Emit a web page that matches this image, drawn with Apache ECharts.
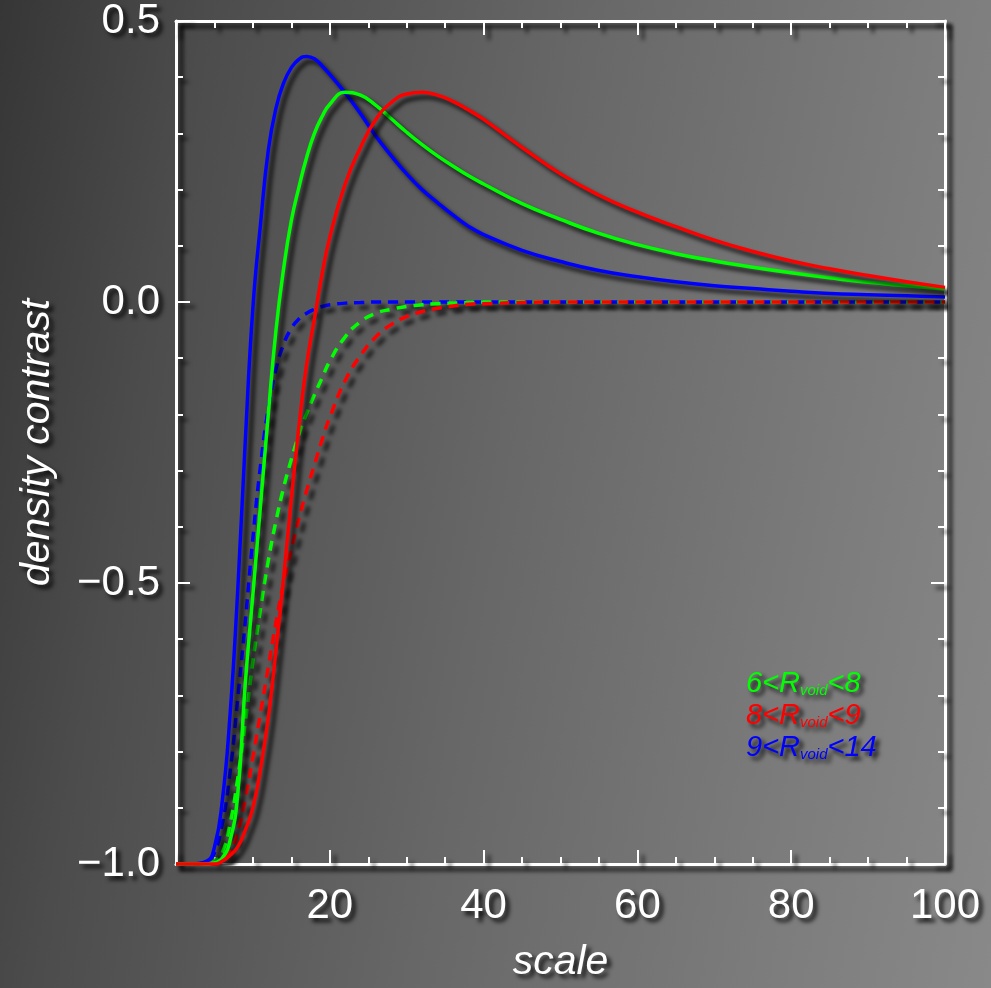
<!DOCTYPE html>
<html>
<head>
<meta charset="utf-8">
<script src="https://cdn.jsdelivr.net/npm/echarts@6/dist/echarts.min.js"></script>
<style>
  html, body {
    margin: 0;
    padding: 0;
  }
  body {
    width: 991px;
    height: 988px;
    background: linear-gradient(100deg, #363636 0%, #4c4c4c 18%, #676767 50%, #7c7c7c 80%, #898989 100%);
  }
  #main {
    width: 991px;
    height: 988px;
  }
</style>
</head>
<body>
<div id="main"></div>
<script>
// scale values (x) shared by all curves
var scale = [0, 2, 4, 5, 6, 7, 8, 9, 10, 11, 12, 13, 14, 15, 16, 17, 18, 19, 20,
  22, 24, 26, 28, 30, 32, 34, 36, 38, 40, 45, 50, 55, 60, 65, 70, 75, 80, 85, 90, 95, 100];

// solid curves
var blueSolid = [-1, -1, -0.995, -0.97, -0.89, -0.74, -0.52, -0.25, -0.01, 0.14, 0.27, 0.345, 0.39, 0.417, 0.432, 0.437, 0.433, 0.42, 0.405,
  0.372, 0.335, 0.295, 0.26, 0.228, 0.2, 0.177, 0.155, 0.135, 0.12, 0.092, 0.072, 0.056, 0.045, 0.036, 0.029, 0.024, 0.019, 0.015, 0.013, 0.011, 0.009];
var greenSolid = [-1, -1, -1, -0.998, -0.99, -0.96, -0.88, -0.68, -0.52, -0.36, -0.2, -0.05, 0.06, 0.145, 0.205, 0.258, 0.3, 0.33, 0.352,
  0.373, 0.368, 0.35, 0.326, 0.302, 0.28, 0.26, 0.242, 0.225, 0.21, 0.175, 0.147, 0.122, 0.102, 0.086, 0.073, 0.062, 0.052, 0.043, 0.035, 0.029, 0.023];
var redSolid = [-1, -1, -1, -1, -0.995, -0.985, -0.97, -0.94, -0.9, -0.83, -0.74, -0.62, -0.49, -0.35, -0.22, -0.11, -0.03, 0.05, 0.115,
  0.21, 0.275, 0.325, 0.355, 0.37, 0.373, 0.368, 0.357, 0.342, 0.325, 0.275, 0.228, 0.19, 0.16, 0.134, 0.11, 0.09, 0.073, 0.059, 0.047, 0.036, 0.026];

// dashed curves
var blueDash = [-1, -1, -0.995, -0.98, -0.93, -0.84, -0.71, -0.57, -0.42, -0.29, -0.19, -0.12, -0.075, -0.047, -0.03, -0.02, -0.013, -0.008, -0.005,
  -0.002, -0.001, 0, 0, 0, 0, 0, 0, 0, 0, 0, 0, 0, 0, 0, 0, 0, 0, 0, 0, 0, 0];
var greenDash = [-1, -1, -1, -0.995, -0.98, -0.93, -0.85, -0.75, -0.64, -0.545, -0.46, -0.39, -0.33, -0.28, -0.235, -0.198, -0.165, -0.135, -0.105,
  -0.062, -0.035, -0.02, -0.013, -0.008, -0.005, -0.003, -0.002, -0.001, 0, 0, 0, 0, 0, 0, 0, 0, 0, 0, 0, 0, 0];
var redDash = [-1, -1, -1, -1, -0.995, -0.98, -0.945, -0.885, -0.81, -0.73, -0.65, -0.57, -0.5, -0.44, -0.385, -0.335, -0.29, -0.245, -0.205,
  -0.14, -0.095, -0.062, -0.04, -0.026, -0.017, -0.011, -0.007, -0.004, -0.003, -0.001, 0, 0, 0, 0, 0, 0, 0, 0, 0, 0, 0];

var legendNames = ['6<R_void<8', '8<R_void<9', '9<R_void<14'];
var legendLabels = {
  '6<R_void<8': ['6<R', '<8'],
  '8<R_void<9': ['8<R', '<9'],
  '9<R_void<14': ['9<R', '<14']
};

function pairs(ys) {
  return scale.map(function (x, i) { return [x, ys[i]]; });
}

var shadow = {
  shadowColor: 'rgba(0,0,0,0.85)',
  shadowBlur: 4,
  shadowOffsetX: 5,
  shadowOffsetY: 5
};
var textShadow = {
  textShadowColor: 'rgba(0,0,0,0.85)',
  textShadowBlur: 4,
  textShadowOffsetX: 4,
  textShadowOffsetY: 4
};
var font = '"Liberation Sans", Arial, sans-serif';

function lineSeries(name, ys, color, dashed) {
  return {
    name: name,
    type: 'line',
    data: pairs(ys),
    showSymbol: false,
    smooth: 0.5,
    lineStyle: Object.assign({
      color: color,
      width: 3.5,
      type: dashed ? [10, 7] : 'solid'
    }, shadow),
    itemStyle: { color: color },
    z: 3
  };
}

// frame axes (white, ticks inside, shadowed)
function axisCommon() {
  return {
    axisLine: { show: true, onZero: false, lineStyle: Object.assign({ color: '#fff', width: 3 }, shadow) },
    axisTick: { show: true, inside: true, length: 14, lineStyle: Object.assign({ color: '#fff', width: 2 }, shadow) },
    minorTick: { show: true, length: 7, lineStyle: Object.assign({ color: '#fff', width: 2 }, shadow) },
    splitLine: { show: false },
    minorSplitLine: { show: false }
  };
}

var xBottom = Object.assign(axisCommon(), {
  type: 'value', min: 0, max: 100, interval: 20, position: 'bottom',
  name: 'scale', nameLocation: 'middle', nameGap: 78,
  nameTextStyle: Object.assign({ color: '#fff', fontSize: 41, fontStyle: 'italic', fontFamily: font }, textShadow),
  axisLabel: Object.assign({
    color: '#fff', fontSize: 42, fontFamily: font, margin: 21,
    formatter: function (v) { return v === 0 ? '' : String(v); }
  }, textShadow)
});
xBottom.minorTick.splitNumber = 4;

var xTop = Object.assign(axisCommon(), {
  type: 'value', min: 0, max: 100, interval: 20, position: 'top',
  axisLabel: { show: false }
});
xTop.minorTick.splitNumber = 4;

var yLeft = Object.assign(axisCommon(), {
  type: 'value', min: -1, max: 0.5, interval: 0.5, position: 'left',
  name: 'density contrast', nameLocation: 'middle', nameGap: 118, nameRotate: 90,
  nameTextStyle: Object.assign({ color: '#fff', fontSize: 41, fontStyle: 'italic', fontFamily: font }, textShadow),
  axisLabel: Object.assign({
    color: '#fff', fontSize: 42, fontFamily: font, margin: 16,
    formatter: function (v) { return v.toFixed(1).replace('-', '\u2212'); }
  }, textShadow)
});
yLeft.minorTick.splitNumber = 5;

var yRight = Object.assign(axisCommon(), {
  type: 'value', min: -1, max: 0.5, interval: 0.5, position: 'right',
  axisLabel: { show: false }
});
yRight.minorTick.splitNumber = 5;

var option = {
  backgroundColor: 'transparent',
  animation: false,
  grid: { left: 176, right: 46, top: 17, bottom: 116 },
  xAxis: [xBottom, xTop],
  yAxis: [yLeft, yRight],
  legend: {
    data: [
      { name: legendNames[0], textStyle: { color: '#00ff00' } },
      { name: legendNames[1], textStyle: { color: '#ff0000' } },
      { name: legendNames[2], textStyle: { color: '#0000ff' } }
    ],
    orient: 'vertical',
    left: 736,
    top: 664,
    icon: 'none',
    itemWidth: 0,
    itemGap: 3,
    selectedMode: false,
    formatter: function (name) {
      var p = legendLabels[name];
      return '{a|' + p[0] + '}{s|void}{a|' + p[1] + '}';
    },
    textStyle: Object.assign({
      fontFamily: font,
      rich: {
        a: Object.assign({ fontSize: 29, fontStyle: 'italic', fontFamily: font, verticalAlign: 'bottom', lineHeight: 30 }, textShadow),
        s: Object.assign({ fontSize: 15, fontStyle: 'italic', fontFamily: font, verticalAlign: 'bottom', lineHeight: 22 }, textShadow)
      }
    }, textShadow)
  },
  series: [
    lineSeries('blue dashed', blueDash, '#0000ff', true),
    lineSeries('green dashed', greenDash, '#00ff00', true),
    lineSeries('red dashed', redDash, '#ff0000', true),
    lineSeries(legendNames[2], blueSolid, '#0000ff', false),
    lineSeries(legendNames[0], greenSolid, '#00ff00', false),
    lineSeries(legendNames[1], redSolid, '#ff0000', false)
  ]
};

var myChart = echarts.init(document.getElementById('main'));
myChart.setOption(option);
</script>
</body>
</html>
